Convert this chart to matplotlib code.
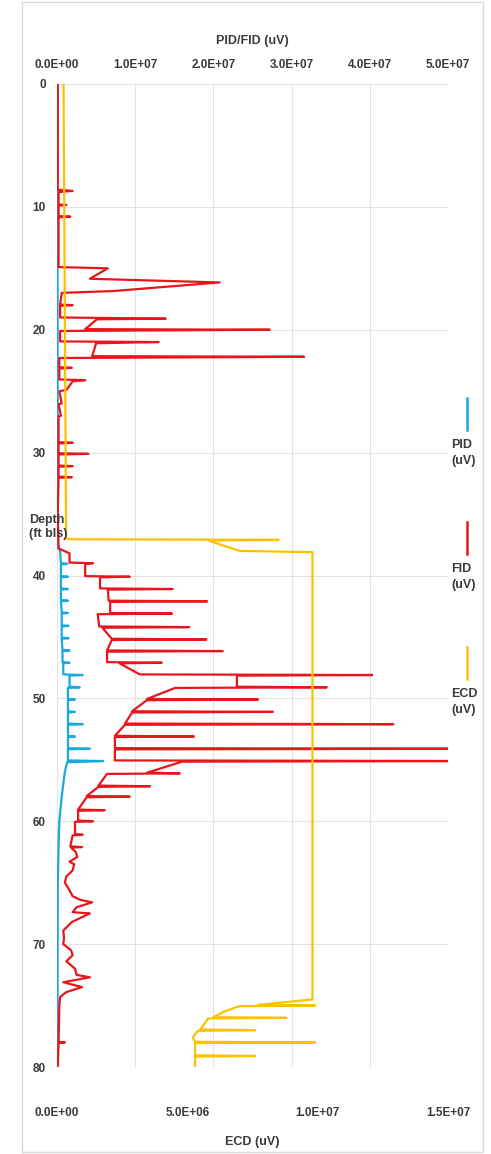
import matplotlib
matplotlib.use("Agg")
import matplotlib.pyplot as plt
from matplotlib.ticker import FuncFormatter, MultipleLocator
from matplotlib.patches import Rectangle
from matplotlib.lines import Line2D

plt.rcParams['font.family'] = ['Liberation Sans', 'DejaVu Sans']

# FID log (depth ft bls, signal in uV)
fid_depth = [0.0, 5.0, 8.6, 8.7, 8.8, 9.8, 9.85, 9.9, 10.75, 10.8, 10.85,
             14.9, 15.0, 15.85, 16.15, 16.85, 17.0, 17.95, 18.0, 18.05,
             19.0, 19.1, 19.15, 19.95, 20.0, 20.1, 20.95, 21.0, 21.1, 22.15, 22.2, 22.3,
             23.05, 23.1, 23.15, 24.05, 24.1, 24.2, 24.9, 25.0, 26.0, 26.05, 27.0, 27.05,
             29.15, 29.2, 29.25, 30.05, 30.1, 30.15, 31.05, 31.1, 31.15, 31.95, 32.0, 32.05,
             35.0, 37.8, 38.2, 38.95, 39.0, 39.05, 40.05, 40.1, 40.15, 41.05, 41.1, 41.15,
             42.05, 42.1, 42.15, 43.05, 43.1, 43.15, 44.15, 44.2, 44.25, 45.15, 45.2, 45.25,
             46.1, 46.15, 46.2, 47.05, 47.1, 47.15, 48.05, 48.1, 48.15, 49.05, 49.1, 49.15,
             50.05, 50.1, 50.15, 51.05, 51.1, 51.15, 52.05, 52.1, 52.15, 53.05, 53.1, 53.15,
             54.05, 54.1, 54.15, 55.05, 55.1, 55.15, 56.05, 56.1, 56.15, 57.1, 57.15, 57.2,
             57.95, 58.0, 58.05, 59.05, 59.1, 59.15, 59.95, 60.0, 60.05, 61.05, 61.1, 61.15,
             62.05, 62.1, 62.15, 62.5, 62.9, 63.3, 63.5, 64.0, 64.5, 65.0, 65.5, 66.1, 66.4,
             66.6, 67.0, 67.4, 67.5, 68.2, 68.9, 69.5, 70.0, 70.5, 70.9, 71.4, 72.0, 72.5,
             72.7, 73.1, 73.5, 73.9, 74.3, 75.0, 77.95, 78.0, 78.05, 80.0]
fid_uv = [0.1e6, 0.1e6, 0.1e6, 2.0e6, 0.2e6, 0.2e6, 1.2e6, 0.2e6, 0.2e6, 1.7e6, 0.2e6,
          0.2e6, 6.5e6, 4.2e6, 20.8e6, 7.2e6, 0.6e6, 0.4e6, 2.0e6, 0.4e6,
          0.4e6, 13.9e6, 5.1e6, 3.6e6, 27.2e6, 0.4e6, 0.4e6, 13.0e6, 5.0e6, 4.5e6, 31.6e6, 0.3e6,
          0.3e6, 1.9e6, 0.3e6, 0.3e6, 3.6e6, 2.0e6, 1.2e6, 0.3e6, 0.6e6, 0.2e6, 0.5e6, 0.2e6,
          0.2e6, 2.0e6, 0.2e6, 0.2e6, 4.0e6, 0.2e6, 0.2e6, 2.0e6, 0.2e6, 0.2e6, 1.9e6, 0.2e6,
          0.1e6, 0.2e6, 1.6e6, 1.6e6, 4.6e6, 3.6e6, 3.6e6, 9.3e6, 5.5e6, 5.5e6, 14.8e6, 6.5e6,
          6.6e6, 19.2e6, 6.8e6, 6.8e6, 14.7e6, 5.2e6, 5.4e6, 16.9e6, 5.8e6, 7.0e6, 19.1e6, 7.0e6,
          6.4e6, 21.2e6, 6.4e6, 6.4e6, 13.4e6, 8.0e6, 10.6e6, 40.3e6, 23.0e6, 23.0e6, 34.5e6, 15.1e6,
          11.5e6, 25.7e6, 11.5e6, 9.6e6, 27.6e6, 9.6e6, 8.7e6, 43.0e6, 8.7e6, 7.4e6, 17.5e6, 7.4e6,
          7.4e6, 55.0e6, 7.4e6, 7.4e6, 55.0e6, 16.0e6, 11.5e6, 15.7e6, 6.4e6, 5.3e6, 11.9e6, 5.3e6,
          3.8e6, 9.3e6, 3.8e6, 2.7e6, 6.1e6, 2.7e6, 2.7e6, 4.6e6, 2.3e6, 2.3e6, 3.3e6, 2.0e6,
          1.7e6, 3.2e6, 1.8e6, 2.4e6, 2.6e6, 1.6e6, 2.2e6, 2.0e6, 1.2e6, 1.0e6, 1.5e6, 2.0e6, 3.0e6,
          4.5e6, 2.5e6, 2.0e6, 4.2e6, 1.9e6, 0.8e6, 0.9e6, 0.8e6, 1.8e6, 2.0e6, 1.2e6, 2.3e6, 2.5e6,
          4.2e6, 0.8e6, 3.2e6, 1.2e6, 0.4e6, 0.3e6, 0.2e6, 1.0e6, 0.2e6, 0.1e6]

# PID log
pid_depth = [0.0, 37.5, 38.0, 39.0, 39.05, 39.1, 40.05, 40.1, 40.15, 41.05, 41.1, 41.15,
             42.0, 42.05, 42.1, 43.0, 43.05, 43.1, 44.05, 44.1, 44.15, 45.05, 45.1, 45.15,
             46.05, 46.1, 46.15, 47.05, 47.1, 47.15, 48.05, 48.1, 48.15, 49.05, 49.1, 49.15,
             50.05, 50.1, 50.15, 51.05, 51.1, 51.15, 52.05, 52.1, 52.15, 53.05, 53.1, 53.15,
             54.05, 54.1, 54.15, 55.05, 55.1, 55.2, 56.0, 57.0, 58.0, 60.0, 62.0, 65.0, 80.0]
pid_uv = [0.05e6, 0.1e6, 0.4e6, 0.5e6, 1.3e6, 0.5e6, 0.5e6, 1.4e6, 0.5e6, 0.5e6, 1.4e6, 0.5e6,
          0.5e6, 1.4e6, 0.5e6, 0.6e6, 1.4e6, 0.6e6, 0.6e6, 1.5e6, 0.6e6, 0.6e6, 1.5e6, 0.6e6,
          0.7e6, 1.6e6, 0.7e6, 0.7e6, 1.6e6, 0.8e6, 0.8e6, 3.3e6, 1.6e6, 1.6e6, 2.9e6, 1.4e6,
          1.4e6, 2.3e6, 1.4e6, 1.4e6, 2.3e6, 1.4e6, 1.4e6, 3.3e6, 1.4e6, 1.4e6, 2.3e6, 1.4e6,
          1.4e6, 4.2e6, 1.4e6, 1.4e6, 5.9e6, 1.3e6, 1.0e6, 0.8e6, 0.6e6, 0.3e6, 0.2e6, 0.1e6, 0.05e6]

# ECD log
ecd_depth = [0.0, 37.0, 37.05, 37.1, 37.15, 38.0, 38.1, 74.5, 74.95, 75.0, 75.05, 75.5,
             75.95, 76.0, 76.05, 76.95, 77.0, 77.05, 77.6, 77.95, 78.0, 78.05, 79.05, 79.1,
             79.15, 80.0]
ecd_uv = [0.25e6, 0.35e6, 0.6e6, 8.5e6, 5.8e6, 7.0e6, 9.8e6, 9.8e6, 7.7e6, 9.9e6, 7.0e6, 6.4e6,
          6.0e6, 8.8e6, 5.8e6, 5.5e6, 7.6e6, 5.4e6, 5.2e6, 5.3e6, 9.9e6, 5.3e6, 5.3e6, 7.6e6,
          5.3e6, 5.3e6]

W, H = 491, 1154
fig = plt.figure(figsize=(W / 100, H / 100), dpi=100)
fig.add_artist(Rectangle((22 / W, 2 / H), 461 / W, 1150 / H, transform=fig.transFigure,
                         fill=False, edgecolor='#d9d9d9', linewidth=1))

ax = fig.add_axes([57 / W, 87 / H, 391 / W, 983 / H])
ax2 = ax.twiny()

c_pid, c_fid, c_ecd = '#19a9dc', '#e8161b', '#ffc000'
ax.plot(pid_uv, pid_depth, color=c_pid, lw=1.6)
ax.plot(fid_uv, fid_depth, color=c_fid, lw=1.6)
ax2.plot(ecd_uv, ecd_depth, color=c_ecd, lw=1.6)

ax.set_ylim(80, 0)
ax.set_xlim(0, 5e7)
ax2.set_xlim(0, 1.5e7)
ax.yaxis.set_major_locator(MultipleLocator(10))
ax.xaxis.set_major_locator(MultipleLocator(1e7))
ax2.xaxis.set_major_locator(MultipleLocator(5e6))

sci = FuncFormatter(lambda v, p: f"{v:.1E}")
ax.xaxis.set_major_formatter(sci)
ax2.xaxis.set_major_formatter(sci)

# PID/FID on the top, ECD on the bottom
ax.xaxis.tick_top()
ax.xaxis.set_label_position('top')
ax2.xaxis.tick_bottom()
ax2.xaxis.set_label_position('bottom')

ax.grid(True, color='#e3e3e3', lw=0.8)
ax.set_axisbelow(True)
for a in (ax, ax2):
    for s in a.spines.values():
        s.set_visible(False)

fs = 8.5
lab = dict(fontsize=9, fontweight='bold', color='#3a3a3a')
ax.tick_params(axis='x', length=0, pad=9, labelsize=fs, labelcolor='#3a3a3a')
ax.tick_params(axis='y', length=0, pad=8, labelsize=fs, labelcolor='#3a3a3a')
ax2.tick_params(axis='x', length=0, pad=29, labelsize=fs, labelcolor='#3a3a3a')
for t in ax.get_xticklabels() + ax.get_yticklabels() + ax2.get_xticklabels():
    t.set_fontweight('bold')

ax.set_xlabel('PID/FID (uV)', labelpad=11, **lab)
ax2.set_xlabel('ECD (uV)', labelpad=12, **lab)

fig.text(29 / W, 1 - 527 / H, 'Depth\n(ft bls)', ha='left', va='center',
         linespacing=1.15, **lab)

# legend on the right
for col, y0, name in [(c_pid, 398, 'PID'), (c_fid, 522, 'FID'), (c_ecd, 647, 'ECD')]:
    fig.add_artist(Line2D([467 / W, 467 / W], [1 - y0 / H, 1 - (y0 + 32) / H],
                          transform=fig.transFigure, color=col, lw=1.8))
    fig.text(451 / W, 1 - (y0 + 55) / H, name + '\n(uV)', ha='left', va='center',
             linespacing=1.35, **lab)

fig.savefig('out.png', dpi=100)
